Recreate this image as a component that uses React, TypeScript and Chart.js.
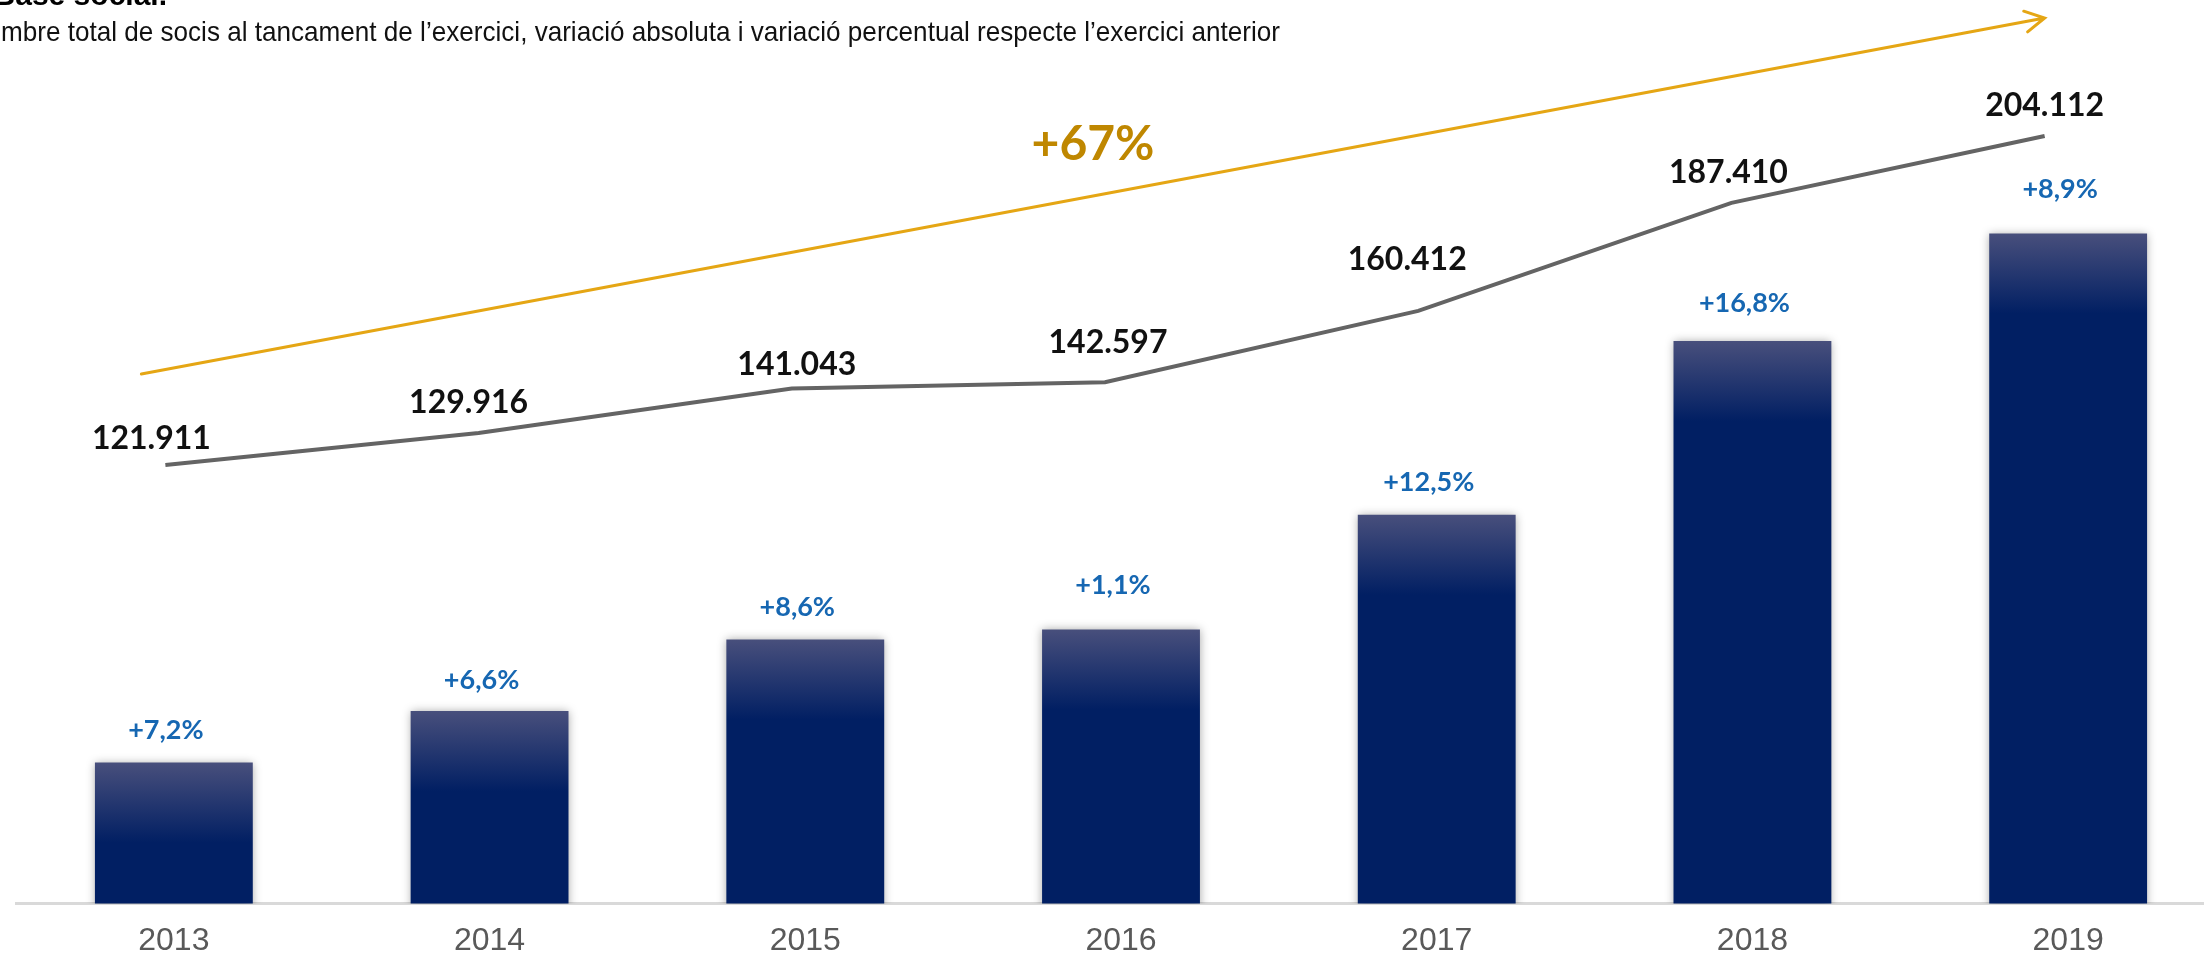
import React, { useEffect, useRef } from 'react';
import { Chart, registerables } from 'chart.js';

Chart.register(...registerables);

// ---- data ----
const years = ['2013', '2014', '2015', '2016', '2017', '2018', '2019'];
const totalMembers = [121911, 129916, 141043, 142597, 160412, 187410, 204112];
const pctChange = [7.2, 6.6, 8.6, 1.1, 12.5, 16.8, 8.9];
const titleText = 'Base social.';
const subtitleText =
  'Nombre total de socis al tancament de l’exercici, variació absoluta i variació percentual respecte l’exercici anterior';

// ---- label placement (style) ----
const valueLabelDx = [-14, -10, 5, 3, -11, -3, 0];
const valueLabelDy = [-26, -30, -24, -40, -51, -30, -30];
const pctLabelDy = [32, 31, 32, 44, 32, 38, 44];

const CANVAS_W = 2240;
const CANVAS_H = 978;

const fmtThousands = (v: number) => String(v).replace(/\B(?=(\d{3})+(?!\d))/g, '.');
const fmtPct = (v: number) => '+' + v.toFixed(1).replace('.', ',') + '%';

const overlayPlugin = {
  id: 'overlay',
  beforeDatasetDraw(chart: any, args: any) {
    if (chart.getDatasetMeta(args.index).type === 'bar') {
      const c = chart.ctx;
      c.save();
      c.shadowColor = 'rgba(0,0,0,0.35)';
      c.shadowBlur = 9;
      c.shadowOffsetX = 0;
      c.shadowOffsetY = 0;
    }
  },
  afterDatasetDraw(chart: any, args: any) {
    if (chart.getDatasetMeta(args.index).type === 'bar') chart.ctx.restore();
  },
  afterDatasetsDraw(chart: any) {
    const ctx = chart.ctx;
    const lineMeta = chart.getDatasetMeta(0);
    const barMeta = chart.getDatasetMeta(1);

    // percentage labels above bars
    ctx.save();
    ctx.font = 'bold 27px Lato, "Noto Sans", sans-serif';
    ctx.fillStyle = '#1667B2';
    ctx.textAlign = 'center';
    ctx.textBaseline = 'middle';
    barMeta.data.forEach((bar: any, i: number) => {
      ctx.fillText(fmtPct(pctChange[i]), bar.x - 8, bar.y - pctLabelDy[i]);
    });
    ctx.restore();

    // value labels on line
    ctx.save();
    ctx.font = 'bold 32px Lato, "Noto Sans", sans-serif';
    ctx.fillStyle = '#111111';
    ctx.textAlign = 'center';
    ctx.textBaseline = 'middle';
    lineMeta.data.forEach((pt: any, i: number) => {
      ctx.fillText(fmtThousands(totalMembers[i]), pt.x + valueLabelDx[i], pt.y + valueLabelDy[i]);
    });
    ctx.restore();

    // trend arrow
    const n = lineMeta.data.length;
    const p0 = lineMeta.data[0];
    const pN = lineMeta.data[n - 1];
    const sx = p0.x - 24, sy = p0.y - 91;
    const ex = pN.x, ey = pN.y - 118;
    ctx.save();
    ctx.strokeStyle = '#E5A614';
    ctx.lineWidth = 3;
    ctx.lineCap = 'round';
    ctx.beginPath();
    ctx.moveTo(sx, sy);
    ctx.lineTo(ex, ey);
    const ang = Math.atan2(ey - sy, ex - sx);
    const L = 22, a = 0.5;
    ctx.moveTo(ex - L * Math.cos(ang - a), ey - L * Math.sin(ang - a));
    ctx.lineTo(ex, ey);
    ctx.lineTo(ex - L * Math.cos(ang + a), ey - L * Math.sin(ang + a));
    ctx.stroke();
    const growth = Math.round((totalMembers[n - 1] / totalMembers[0] - 1) * 100);
    ctx.font = 'bold 48px Lato, "Noto Sans", sans-serif';
    ctx.fillStyle = '#BF8700';
    ctx.textAlign = 'center';
    ctx.textBaseline = 'middle';
    ctx.fillText('+' + growth + '%', (sx + ex) / 2, (sy + ey) / 2 - 51);
    ctx.restore();
  },
  afterDraw(chart: any) {
    const ctx = chart.ctx;
    ctx.save();
    ctx.fillStyle = '#000000';
    ctx.font = 'bold 30px "Liberation Sans", Arial, sans-serif';
    ctx.textAlign = 'right';
    ctx.textBaseline = 'alphabetic';
    ctx.fillText(titleText, 167, 5);

    ctx.font = '28px "Liberation Sans Narrow", "Liberation Sans", Arial, sans-serif';
    const visible = subtitleText.slice(2);
    const w = ctx.measureText(visible).width;
    const s = 1279 / w;
    ctx.translate(1280, 41);
    ctx.scale(s, 1);
    ctx.textAlign = 'right';
    ctx.fillStyle = '#111111';
    ctx.fillText(subtitleText, 0, 0);
    ctx.restore();
  },
};

export default function App() {
  const ref = useRef<HTMLCanvasElement>(null);
  useEffect(() => {
    const canvas = ref.current!;
    const chart = new Chart(canvas, {
      type: 'bar',
      data: {
        labels: years,
        datasets: [
          {
            type: 'line',
            label: 'Socis',
            data: totalMembers.map((v, i) => ({ x: i, y: v })),
            xAxisID: 'x2',
            yAxisID: 'y2',
            borderColor: '#646464',
            borderWidth: 4,
            pointRadius: 0,
            tension: 0,
            fill: false,
          } as any,
          {
            type: 'bar',
            label: 'Total',
            data: totalMembers,
            xAxisID: 'x',
            yAxisID: 'y',
            grouped: false,
            barPercentage: 0.5,
            categoryPercentage: 1.0,
            backgroundColor: (c: any) => {
              const ch = c.chart;
              if (!ch.chartArea || c.raw == null) return '#001E62';
              const top = ch.scales.y.getPixelForValue(c.raw);
              const g = ch.ctx.createLinearGradient(0, top, 0, top + 80);
              g.addColorStop(0, '#484F7C');
              g.addColorStop(1, '#011F63');
              return g;
            },
            borderWidth: 0,
          } as any,
        ],
      },
      options: {
        responsive: false,
        animation: false,
        devicePixelRatio: 1,
        layout: { padding: { left: 16, right: 14, top: 0, bottom: 0 } },
        plugins: {
          legend: { display: false },
          title: { display: false },
          tooltip: { enabled: false },
        },
        scales: {
          x: {
            type: 'category',
            offset: true,
            grid: { display: false, drawTicks: false },
            border: { display: true, color: '#D9D9D9', width: 3 },
            ticks: {
              color: '#595959',
              padding: 18,
              font: { family: '"Liberation Sans", Arial, sans-serif', size: 32, lineHeight: 1.2 },
            },
          },
          x2: {
            type: 'linear',
            display: false,
            offset: false,
            grid: { offset: false },
            bounds: 'data',
            min: -0.4769,
            max: 6.579,
          },
          y: { type: 'linear', display: false, min: 100000, max: 240400 },
          y2: { type: 'linear', display: false, min: 12328, max: 238093 },
        },
      } as any,
      plugins: [overlayPlugin],
    });
    return () => chart.destroy();
  }, []);
  return (
    <div
      style={{
        position: 'fixed',
        left: 0,
        top: 0,
        width: 2204,
        height: 956,
        overflow: 'hidden',
        background: '#ffffff',
      }}
    >
      <canvas
        ref={ref}
        width={CANVAS_W}
        height={CANVAS_H}
        style={{ display: 'block', width: CANVAS_W, height: CANVAS_H }}
      />
    </div>
  );
}
